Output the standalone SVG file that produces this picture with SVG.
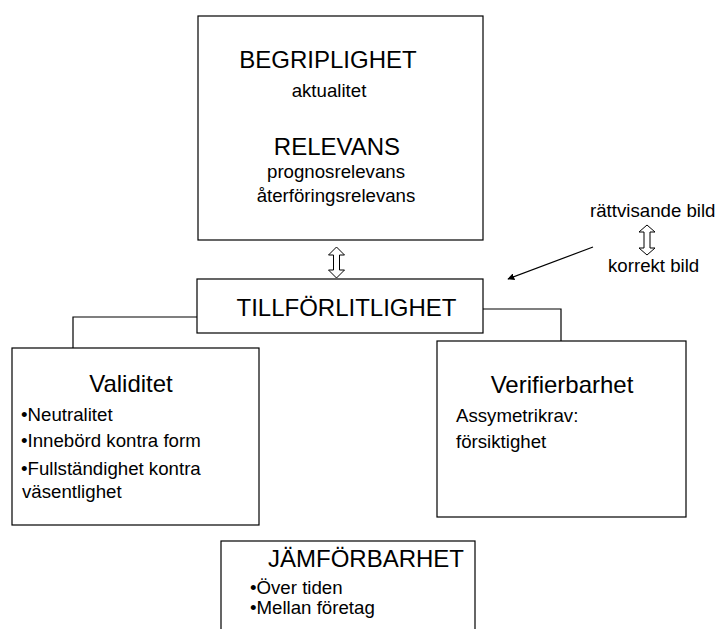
<svg xmlns="http://www.w3.org/2000/svg" width="718" height="629" viewBox="0 0 718 629">
<style>
  .box { fill: #fff; stroke: #000; stroke-width: 1.2; }
  .line { fill: none; stroke: #000; stroke-width: 1.2; }
  .dbl { fill: #fff; stroke: #000; stroke-width: 1; }
  text { font-family: "Liberation Sans", Arial, sans-serif; fill: #000; }
  .big { font-size: 24px; }
  .small { font-size: 18.67px; }
  .mid { text-anchor: middle; }
</style>
<defs>
  <marker id="arr" viewBox="0 0 10 10" refX="9" refY="5" markerWidth="7" markerHeight="7" orient="auto" markerUnits="userSpaceOnUse">
    <path d="M0,0 L10,5 L0,10 Z" fill="#000"/>
  </marker>
</defs>
<rect width="718" height="629" fill="#fff"/>

<g id="connectors">
  <polyline class="line" points="197,317 73,317 73,348"/>
  <polyline class="line" points="483,309 561,309 561,341"/>
  <path class="dbl" d="M336.5,247 L344.5,255 L339.5,255 L339.5,270 L344.5,270 L336.5,278 L328.5,270 L333.5,270 L333.5,255 L328.5,255 Z"/>
  <path class="dbl" d="M647,225 L655,232 L650,232 L650,248 L655,248 L647,255 L639,248 L644,248 L644,232 L639,232 Z"/>
  <line class="line" x1="593" y1="247" x2="508" y2="279" marker-end="url(#arr)"/>
</g>

<g id="begriplighet">
  <rect class="box" x="198" y="16" width="285" height="224"/>
  <text class="big mid" x="328" y="68">BEGRIPLIGHET</text>
  <text class="small mid" x="329" y="97">aktualitet</text>
  <text class="big mid" x="337" y="155">RELEVANS</text>
  <text class="small mid" x="336" y="178">prognosrelevans</text>
  <text class="small mid" x="336" y="202">återföringsrelevans</text>
</g>

<g id="tillforlitlighet">
  <rect class="box" x="197" y="279" width="286" height="54"/>
  <text class="big mid" x="346.5" y="316">TILLFÖRLITLIGHET</text>
</g>

<g id="validitet">
  <rect class="box" x="12" y="348" width="247" height="177"/>
  <text class="big mid" x="131" y="392">Validitet</text>
  <text class="small" x="21" y="421">•Neutralitet</text>
  <text class="small" x="21" y="447">•Innebörd kontra form</text>
  <text class="small" x="21" y="475">•Fullständighet kontra</text>
  <text class="small" x="22" y="498">väsentlighet</text>
</g>

<g id="verifierbarhet">
  <rect class="box" x="437" y="341" width="249" height="176"/>
  <text class="big mid" x="562" y="393">Verifierbarhet</text>
  <text class="small" x="456" y="422">Assymetrikrav:</text>
  <text class="small" x="456" y="448">försiktighet</text>
</g>

<g id="rattvisande">
  <text class="small" x="590" y="217">rättvisande bild</text>
  <text class="small" x="608" y="272">korrekt bild</text>
</g>

<g id="jamforbarhet">
  <rect class="box" x="221" y="541" width="254" height="100"/>
  <text class="big mid" x="366" y="567">JÄMFÖRBARHET</text>
  <text class="small" x="250" y="594">•Över tiden</text>
  <text class="small" x="250" y="614">•Mellan företag</text>
</g>
</svg>
